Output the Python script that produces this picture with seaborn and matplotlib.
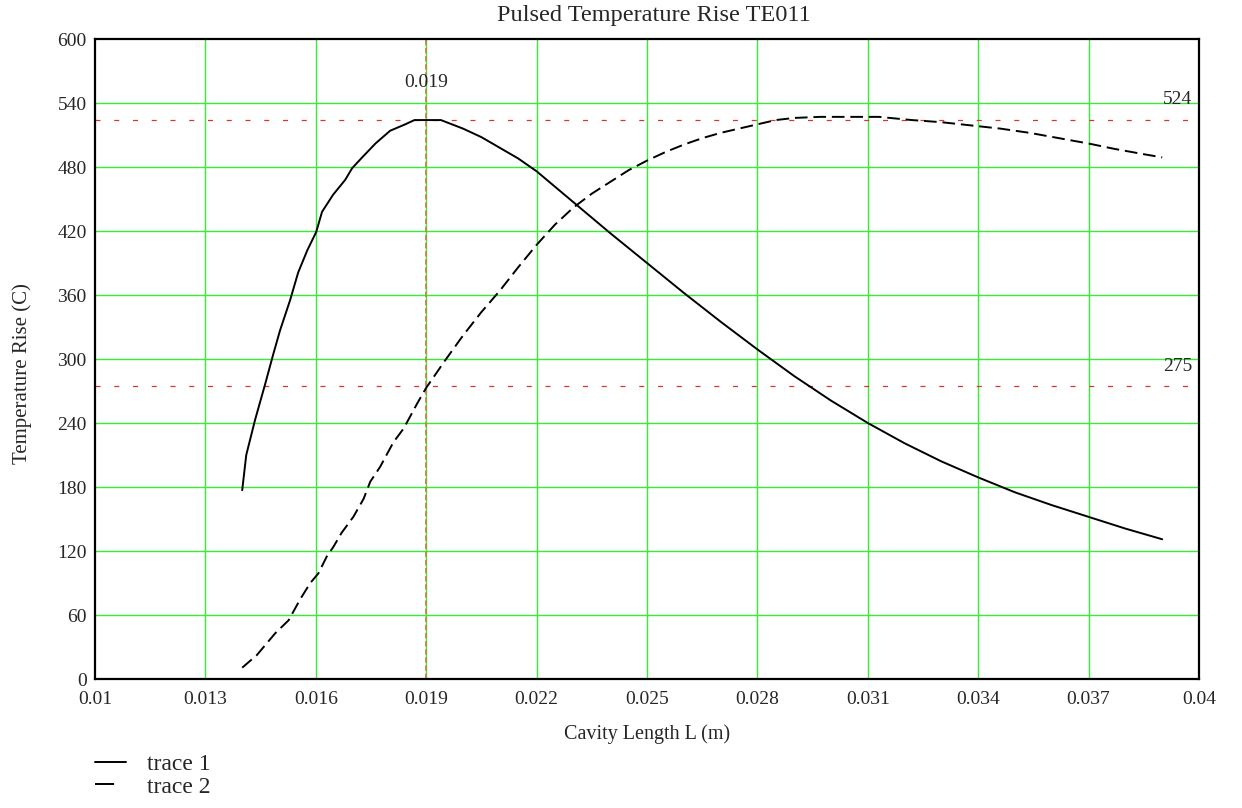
import numpy as np
import pandas as pd
import matplotlib
matplotlib.use("Agg")
import matplotlib.pyplot as plt
from matplotlib.lines import Line2D
import seaborn as sns

# ---------------- data ----------------
L1 = [0.01400, 0.01411, 0.01435, 0.01462, 0.01484, 0.01503, 0.01530, 0.01552,
      0.01577, 0.01601, 0.01617, 0.01647, 0.01680, 0.01699, 0.01726, 0.01762,
      0.01802, 0.01843, 0.01868, 0.01940, 0.02000, 0.02050, 0.02100, 0.02150,
      0.02200, 0.02300, 0.02400, 0.02500, 0.02600, 0.02700, 0.02800, 0.02900,
      0.03000, 0.03100, 0.03200, 0.03300, 0.03400, 0.03500, 0.03600, 0.03700,
      0.03800, 0.03900]
T1 = [177, 210, 243, 276, 304, 327, 355, 381,
      402, 419, 438, 454, 468, 479, 489, 502,
      514, 520, 524, 524, 516, 508, 498, 488,
      476, 447, 418, 390, 362, 335, 309, 284,
      261, 240, 221, 204, 189, 175, 163, 152,
      141, 131]

L2 = [0.01400, 0.01440, 0.01490, 0.01526, 0.01558, 0.01585, 0.01607, 0.01630,
      0.01648, 0.01670, 0.01702, 0.01730, 0.01748, 0.01775, 0.01789, 0.01811,
      0.01839, 0.01875, 0.01900, 0.01950, 0.02000, 0.02050, 0.02100, 0.02150,
      0.02200, 0.02250, 0.02300, 0.02350, 0.02400, 0.02450, 0.02500, 0.02550,
      0.02600, 0.02650, 0.02700, 0.02750, 0.02800, 0.02850, 0.02900, 0.02970,
      0.03050, 0.03130, 0.03220, 0.03300, 0.03380, 0.03460, 0.03540, 0.03620,
      0.03700, 0.03770, 0.03850, 0.03900]
T2 = [10.6, 22.5, 43, 55, 75, 90, 99, 115,
      124, 137, 152, 169, 185, 199, 208, 222,
      235, 258, 273, 298, 322, 344, 364, 386,
      407, 426, 442, 455, 466, 477, 486, 494,
      501, 507, 512, 516, 520, 524, 526, 527,
      527, 527, 524, 522, 519, 516, 512, 507,
      502, 497, 492, 489]

trace_names = ["trace 1", "trace 2"]
x_ticks = [0.01, 0.013, 0.016, 0.019, 0.022, 0.025, 0.028, 0.031, 0.034, 0.037, 0.04]
x_tick_labels = ["0.01", "0.013", "0.016", "0.019", "0.022", "0.025", "0.028",
                 "0.031", "0.034", "0.037", "0.04"]
y_ticks = [0, 60, 120, 180, 240, 300, 360, 420, 480, 540, 600]

marker_x = 0.019
marker_y1 = 524
marker_y2 = 275

title = "Pulsed Temperature Rise TE011"
x_label = "Cavity Length L (m)"
y_label = "Temperature Rise (C)"

# ---------------- style ----------------
sns.set_style("white")
plt.rcParams["font.family"] = ["Liberation Serif", "DejaVu Serif"]

W, H = 1242, 808
fig = plt.figure(figsize=(W / 100, H / 100), dpi=100)
ax = fig.add_axes([95 / W, 1 - 679 / H, (1199 - 95) / W, (679 - 39) / H])

GRID = "#33ee33"
for xv in x_ticks[1:-1]:
    ax.axvline(xv, color=GRID, lw=1.0, zorder=1)
for yv in y_ticks[1:-1]:
    ax.axhline(yv, color=GRID, lw=1.0, zorder=1)

df1 = pd.DataFrame({"L": L1, "T": T1, "trace": trace_names[0]})
df2 = pd.DataFrame({"L": L2, "T": T2, "trace": trace_names[1]})
df = pd.concat([df1, df2], ignore_index=True)

sns.lineplot(data=df, x="L", y="T", style="trace", dashes=["", (6.5, 3)],
             color="black", lw=1.4, estimator=None, sort=False,
             legend=False, ax=ax, zorder=4)

# marker lines
ax.axvline(marker_x, color="#c8824a", lw=1.3, dashes=(3, 1.5), zorder=2)
ax.axhline(marker_y1, color="#e03030", lw=0.9, dashes=(4, 11), zorder=2)
ax.axhline(marker_y2, color="#e03030", lw=0.9, dashes=(4, 11), zorder=2)

ax.annotate(f"{marker_x:g}", xy=(marker_x, 600), xytext=(0, -31.5),
            textcoords="offset points", ha="center", va="center", fontsize=14)
ax.annotate(f"{marker_y1:g}", xy=(0.04, marker_y1), xytext=(-5, 14.5),
            textcoords="offset points", ha="right", va="center", fontsize=14)
ax.annotate(f"{marker_y2:g}", xy=(0.04, marker_y2), xytext=(-5, 14),
            textcoords="offset points", ha="right", va="center", fontsize=14)

ax.set_xlim(0.01, 0.04)
ax.set_ylim(0, 600)
ax.set_xticks(x_ticks)
ax.set_xticklabels(x_tick_labels)
ax.set_yticks(y_ticks)
ax.tick_params(axis="both", length=0, labelsize=14)
ax.tick_params(axis="x", pad=9)
ax.tick_params(axis="y", pad=6)
for s in ax.spines.values():
    s.set_color("black")
    s.set_linewidth(1.6)
    s.set_zorder(5)

ax.set_xlabel(x_label, fontsize=14.5, labelpad=11)
ax.set_ylabel(y_label, fontsize=15)
ax.yaxis.set_label_coords(-0.057, 0.478)

fig.text(654 / W, 1 - 15 / H, title, ha="center", va="center", fontsize=17.5)

handles = [Line2D([], [], color="black", lw=1.4),
           Line2D([], [], color="black", lw=1.4, dashes=(9.8, 12))]
leg = ax.legend(handles, trace_names, loc="upper left",
                bbox_to_anchor=(86 / W, 1 - 744 / H), bbox_transform=fig.transFigure,
                frameon=False, fontsize=17, handlelength=1.3, handletextpad=0.9,
                labelspacing=0.05, borderaxespad=0)

fig.savefig("out.png", dpi=100, facecolor="white")
